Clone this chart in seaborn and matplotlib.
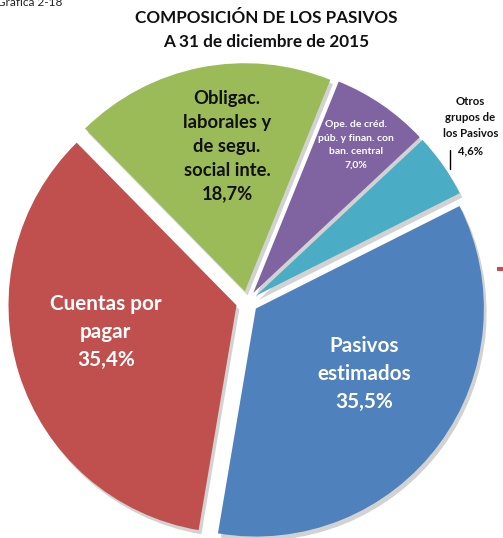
import numpy as np
import matplotlib
matplotlib.use("Agg")
import matplotlib.pyplot as plt
import matplotlib.patheffects as pe
import seaborn as sns

# ---- data ----
categories = ["Obligac. laborales y de segu. social inte.",
              "Ope. de créd. púb. y finan. con ban. central",
              "Otros grupos de los Pasivos",
              "Pasivos estimados",
              "Cuentas por pagar"]
values = [18.7, 7.0, 4.6, 35.5, 35.4]
label_texts = ["Obligac.\nlaborales y\nde segu.\nsocial inte.\n18,7%",
               "Ope. de créd.\npúb. y finan. con\nban. central\n7,0%",
               "Otros\ngrupos de\nlos Pasivos\n4,6%",
               "Pasivos\nestimados\n35,5%",
               "Cuentas por\npagar\n35,4%"]
colors = ["#9BBB59", "#8064A2", "#4BACC6", "#4F81BD", "#C0504D"]
title = "COMPOSICIÓN DE LOS PASIVOS\nA 31 de diciembre de 2015"
caption = "Grafica 2-18"

sns.set_theme(style="white")
plt.rcParams['font.family'] = ['Lato', 'DejaVu Sans']

W, H = 503, 538
fig = plt.figure(figsize=(W / 100, H / 100), dpi=100)
ax = fig.add_axes([0, 0, 1, 1])

R = 228
cx, cy = 247, H - 302
wedges, _ = ax.pie(values, colors=colors, startangle=134.5, counterclock=False,
                   radius=R, center=(cx, cy), explode=[11] * len(values),
                   wedgeprops=dict(edgecolor='none', linewidth=0))
for w in wedges:
    w.set_path_effects([pe.SimplePatchShadow(offset=(2, -3), shadow_rgbFace='#808080', alpha=0.35),
                        pe.Normal()])

ax.set_xlim(0, W)
ax.set_ylim(0, H)
ax.set_aspect('equal')
ax.axis('off')

# label placement relative to each wedge (radial fraction, angle shift)
place = [(0.64, -4.2), (0.79, -0.2), (1.20, 3.5), (0.556, 5.5), (0.585, -5.8)]
tcolors = ['#111111', 'white', '#111111', 'white', 'white']
sizes = [13.2, 7.5, 8.2, 14.9, 14.9]
spacing = [1.48, 1.65, 1.6, 1.5, 1.5]
for w, txt, (rf, dt), tc, fs, ls in zip(wedges, label_texts, place, tcolors, sizes, spacing):
    mid = np.deg2rad((w.theta1 + w.theta2) / 2 + dt)
    x0, y0 = w.center
    lx = x0 + rf * w.r * np.cos(mid)
    ly = y0 + rf * w.r * np.sin(mid)
    ax.text(lx, ly, txt, ha='center', va='center', color=tc, fontsize=fs,
            fontweight='bold', linespacing=ls)
    if txt.startswith("Otros"):
        ax.plot([lx - 20, lx - 20], [ly - 24, ly - 43], color='black', lw=1)

# small red legend fragment at right edge
ax.plot([497, 503], [H - 269, H - 269], color='#C0504D', lw=3, solid_capstyle='butt')

ax.text(266, H - 30, title, ha='center', va='center', fontsize=12.3,
        fontweight='bold', color='#111111', linespacing=1.6)
ax.text(-3, H - 3, caption, ha='left', va='center', fontsize=8.5, color='#222222')

fig.savefig("out.png", dpi=100)
